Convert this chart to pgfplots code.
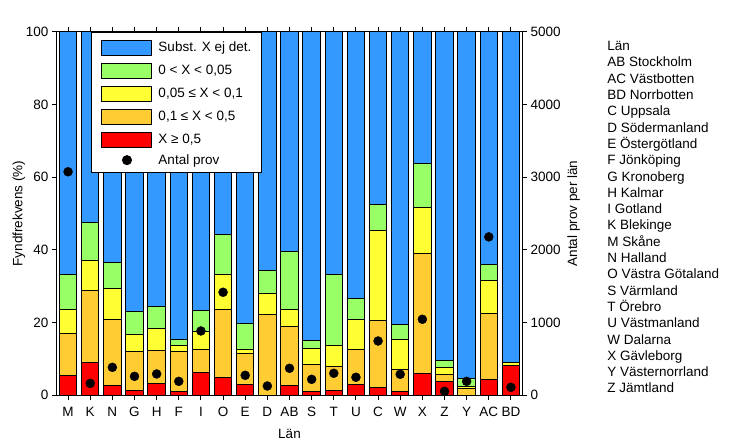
\documentclass[border=0pt]{standalone}
\usepackage{pgfplots}
\pgfplotsset{compat=1.18}
\usepackage{pgfplotstable}
\usepackage{fontspec}
\setmainfont{Liberation Sans}
\definecolor{cblue}{RGB}{51,153,255}
\definecolor{cgreen}{RGB}{153,255,102}
\definecolor{cyellow}{RGB}{255,255,51}
\definecolor{corange}{RGB}{255,204,51}
\definecolor{cred}{RGB}{255,0,0}

\pgfplotstableread{
x red orange yellow green blue n
0 5.5 11.5 6.6 9.7 66.7 3075
1 9.0 19.9 8.2 10.5 52.4 160
2 2.5 18.4 8.5 7.2 63.4 381
3 1.3 10.7 4.7 6.2 77.1 257
4 3.2 9.1 6.1 6.0 75.6 290
5 1.0 11.0 1.6 1.8 84.6 188
6 6.25 6.35 4.9 5.8 76.7 882
7 4.7 18.9 9.7 11.0 55.7 1415
8 2.9 8.5 1.2 7.2 80.2 271
9 0 22.2 5.8 6.4 65.6 124
10 2.5 16.4 4.7 16.0 60.4 368
11 1.0 7.5 4.2 2.2 85.1 216
12 1.3 6.6 5.8 19.4 66.9 299
13 2.9 9.7 8.3 5.8 73.3 244
14 2.1 18.3 25.0 7.2 47.4 744
15 1.0 6.1 8.2 4.2 80.5 285
16 6.0 33.1 12.6 12.2 36.1 1043
17 3.8 1.9 1.9 2.0 90.4 51
18 0 1.8 0.6 2.2 95.4 188
19 4.3 18.2 9.1 4.4 64.0 2178
20 8.2 0 0.8 0 91.0 106
}\data

\newcommand\legbox[1]{\addlegendimage{legend image code/.code={\draw[fill=#1,draw=black,line width=1bp] (0bp,-7.5bp) rectangle (50bp,7.5bp);}}}
\newcommand\fs{\fontsize{13.5bp}{16bp}\selectfont}

\begin{document}
\begin{tikzpicture}[font=\fs]
\pgfplotsset{common/.style={width=465bp,height=363bp,scale only axis,
  xmin=-0.5,xmax=20.5, tick align=outside, major tick length=5bp,
  axis line style={line width=1bp}, every tick/.style={black,line width=1bp},
  /pgf/number format/assume math mode=true, /pgf/number format/1000 sep={},
  tick label style={font=\fs},
  label style={font=\fs}}}
\begin{axis}[common, ybar stacked, bar width=17.5bp, ymin=0, ymax=100,
  ytick={0,20,...,100}, ytick pos=left,
  xtick={0,...,20},
  xticklabels={M,K,N,G,H,F,I,O,E,D,AB,S,T,U,C,W,X,Z,Y,AC,BD},
  xticklabel pos=bottom,
  xticklabel style={yshift=-4bp},
  xlabel style={yshift=-5bp},
  ylabel style={yshift=-6bp},
  ylabel={Fyndfrekvens (\%)}, xlabel={Län}, clip=false]
\addplot[fill=cred, draw=black, line width=1bp] table[x=x,y=red]{\data};
\addplot[fill=corange, draw=black, line width=1bp] table[x=x,y=orange]{\data};
\addplot[fill=cyellow, draw=black, line width=1bp] table[x=x,y=yellow]{\data};
\addplot[fill=cgreen, draw=black, line width=1bp] table[x=x,y=green]{\data};
\addplot[fill=cblue, draw=black, line width=1bp] table[x=x,y=blue]{\data};
\coordinate (ref) at (rel axis cs:1.183,0.9485);
\coordinate (bl) at (rel axis cs:0,0);
\end{axis}
\begin{axis}[common, ymin=0, ymax=5000, ytick={0,1000,...,5000},
  axis x line=none, axis y line*=right,
  ylabel={Antal prov per län},
  legend cell align=left,
  legend style={at={(0.0731,1)}, anchor=north west, draw=black, line width=1bp,
    fill=white, inner xsep=10bp, inner ysep=7bp, row sep=7bp,
    nodes={inner sep=0pt},
    /tikz/every odd column/.append style={column sep=6bp}}]
\legbox{cblue}\addlegendentry{Subst. X ej det.}
\legbox{cgreen}\addlegendentry{0 < X < 0,05}
\legbox{cyellow}\addlegendentry{0,05 ≤ X < 0,1}
\legbox{corange}\addlegendentry{0,1 ≤ X < 0,5}
\legbox{cred}\addlegendentry{X ≥ 0,5}
\addplot[only marks, mark=*, mark size=4.5bp, black,
  legend image code/.code={\fill[black] (25bp,0bp) circle (4.5bp);}]
  table[x=x,y=n]{\data};
\addlegendentry{Antal prov}
\end{axis}
\foreach \t [count=\i from 0] in {Län,AB Stockholm,AC Västbotten,BD Norrbotten,C Uppsala,D Södermanland,E Östergötland,F Jönköping,G Kronoberg,H Kalmar,I Gotland,K Blekinge,M Skåne,N Halland,O Västra Götaland,S Värmland,T Örebro,U Västmanland,W Dalarna,X Gävleborg,Y Västernorrland,Z Jämtland}
  {\node[anchor=base west,inner sep=0pt] at ([yshift=-\i*16.3bp]ref) {\t};}
\pgfresetboundingbox
\path[use as bounding box] ([xshift=-57bp,yshift=-50bp]bl) rectangle ++(731bp,445bp);
\end{tikzpicture}
\end{document}
